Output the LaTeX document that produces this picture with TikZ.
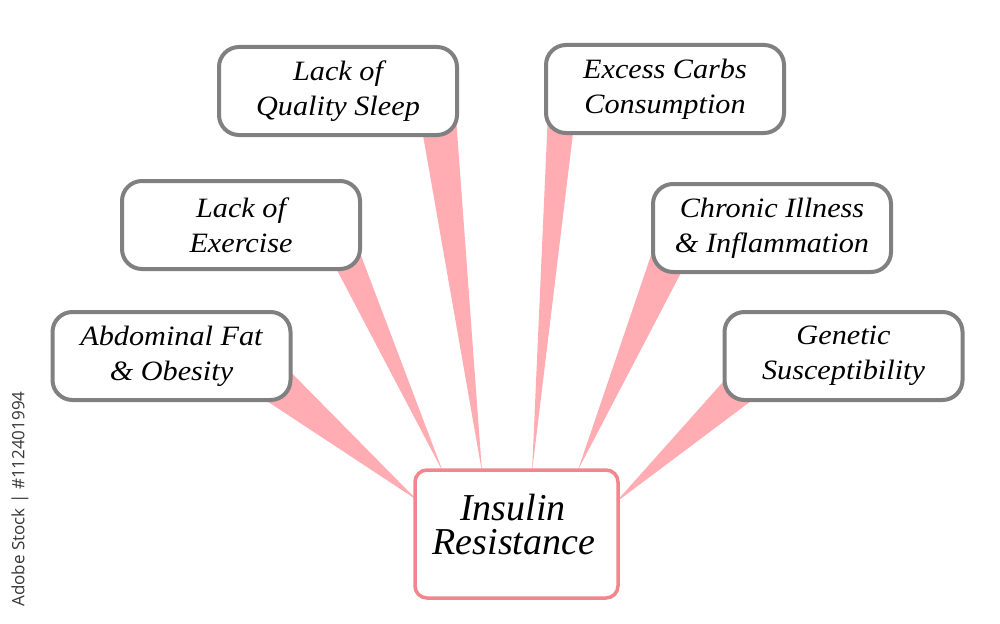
\documentclass[tikz,border=0pt]{standalone}
\usepackage{fontspec}
\newfontfamily\boxfont[FakeStretch=1.08]{Liberation Serif}
\newfontfamily\mainfont{Liberation Serif}
\newfontfamily\wmfont{Open Sans}
\definecolor{boxgray}{RGB}{128,128,128}
\definecolor{centerpink}{RGB}{242,134,142}
\definecolor{wedgepink}{RGB}{255,172,178}
\definecolor{wmgray}{RGB}{55,55,55}
\tikzset{
  causebox/.style={draw=boxgray, line width=4pt, fill=white, rounded corners=20pt,
    minimum width=238pt, minimum height=88pt, inner sep=0pt, align=center,
    font=\boxfont\itshape\fontsize{28}{35}\selectfont},
  centerbox/.style={draw=centerpink, line width=3.5pt, fill=white, rounded corners=12pt,
    minimum width=203pt, minimum height=128pt, inner sep=0pt},
  centertext/.style={inner sep=0pt, anchor=base, font=\mainfont\itshape\fontsize{38}{38}\selectfont},
  wedge/.style={fill=wedgepink, draw=none}
}
\begin{document}
\begin{tikzpicture}[x=1pt,y=-1pt]
\useasboundingbox (0,0) rectangle (1000,623);
% wedge points
\coordinate (tA) at (417,500); \coordinate (a1) at (265,346); \coordinate (a2) at (238,382);
\coordinate (tB) at (443,472); \coordinate (b1) at (343,208); \coordinate (b2) at (317,232);
\coordinate (tC) at (482,472); \coordinate (c1) at (454,90);  \coordinate (c2) at (417,101);
\coordinate (tD) at (532,472); \coordinate (d1) at (549,90);  \coordinate (d2) at (577,100);
\coordinate (tE) at (578,470); \coordinate (e1) at (663,220); \coordinate (e2) at (695,246);
\coordinate (tF) at (615,503); \coordinate (f1) at (747,355); \coordinate (f2) at (775,383);
\path[wedge] (a1) -- (tA) -- (a2) -- cycle;
\path[wedge] (b1) -- (tB) -- (b2) -- cycle;
\path[wedge] (c1) -- (tC) -- (c2) -- cycle;
\path[wedge] (d1) -- (tD) -- (d2) -- cycle;
\path[wedge] (e1) -- (tE) -- (e2) -- cycle;
\path[wedge] (f1) -- (tF) -- (f2) -- cycle;
% boxes
\node[causebox] (sleep) at (338,91) {Lack of\\Quality Sleep};
\node[causebox] (carbs) at (665,89) {Excess Carbs\\Consumption};
\node[causebox] (exer) at (241,225) {Lack of\\Exercise};
\node[causebox] (chron) at (772,228) {Chronic Illness\\\& Inflammation};
\node[causebox] (abd) at (171.5,356) {Abdominal Fat\\\& Obesity};
\node[causebox] (gen) at (843.5,356) {Genetic\\Susceptibility};
\node[centerbox] (ir) at (516.5,534) {};
\node[centertext] (ir1) at (513,520) {Insulin};
\node[centertext] (ir2) at (514,554) {Resistance};
% watermark
\node[rotate=90, inner sep=0pt, text=wmgray, font=\wmfont\fontsize{17}{17}\selectfont] (wm) at (20,499) {Adobe Stock | \#112401994};
\end{tikzpicture}
\end{document}
